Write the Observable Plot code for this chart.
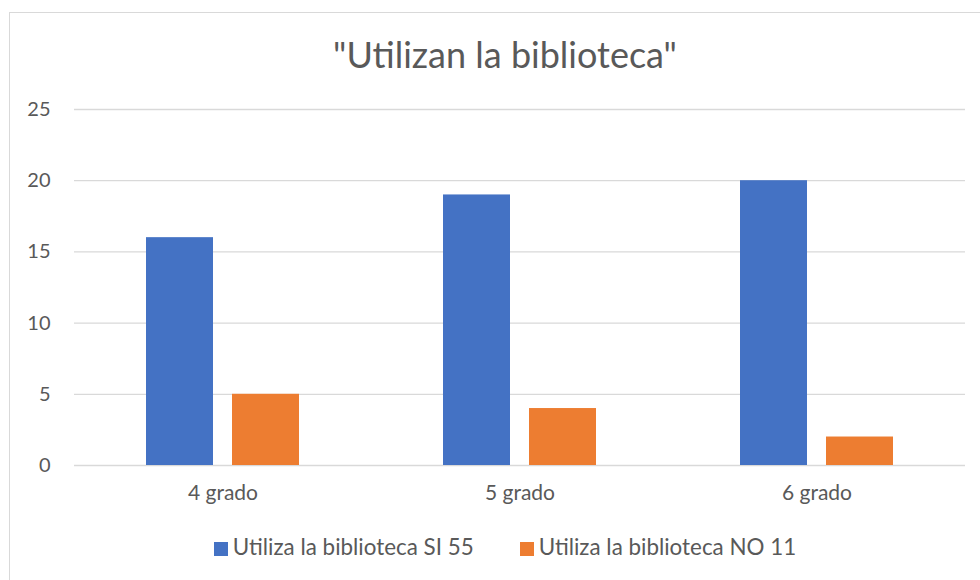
<!DOCTYPE html>
<html>
<head>
<meta charset="utf-8">
<script src="https://cdn.jsdelivr.net/npm/d3@7"></script>
<script src="https://cdn.jsdelivr.net/npm/@observablehq/plot@0.6"></script>
<style>
  html, body { margin: 0; padding: 0; background: #fff; width: 980px; height: 580px; overflow: hidden; font-family: Lato, "Open Sans", sans-serif; }
  #frame { position: absolute; left: 9px; top: 12px; width: 1000px; height: 620px; border: 1.5px solid #d9d9d9; box-sizing: border-box; }
  #title { position: absolute; left: 5px; width: 1000px; top: 30px; text-align: center; font-size: 36px; color: #595959; line-height: 48px; }
  #chart { position: absolute; left: 0; top: 0; }
  #legend { position: absolute; left: 0px; width: 1010px; top: 534px; text-align: center; font-size: 22.4px; color: #595959; line-height: 26px; white-space: nowrap; }
  .item { display: inline-block; margin: 0 23px; }
  .sw { display: inline-block; width: 14px; height: 14px; margin-right: 5px; vertical-align: -1px; }
</style>
</head>
<body>
<div id="frame"></div>
<div id="chart"></div>
<div id="title"></div>
<div id="legend"></div>
<script>
const titleText = "\"Utilizan la biblioteca\"";
const categories = ["4 grado", "5 grado", "6 grado"];
const series = ["Utiliza la biblioteca SI 55", "Utiliza la biblioteca NO 11"];
const siValues = [16, 19, 20];
const noValues = [5, 4, 2];
const yTicks = [0, 5, 10, 15, 20, 25];
const colors = ["#4472C4", "#ED7D31"];

const rows = [];
categories.forEach((c, i) => {
  rows.push({category: c, series: series[0], value: siValues[i]});
  rows.push({category: c, series: series[1], value: noValues[i]});
});

document.getElementById("title").textContent = titleText;

const plot = Plot.plot({
  width: 980,
  height: 580,
  marginLeft: 74,
  marginRight: 15,
  marginTop: 109,
  marginBottom: 115,
  style: {background: "transparent", fontFamily: "Lato, 'Open Sans', sans-serif"},
  fx: {domain: categories, padding: 0, label: null, axis: null},
  x: {domain: series, paddingInner: 0.221, paddingOuter: 0.837, axis: null},
  y: {domain: [0, 25], ticks: yTicks, label: null, axis: null},
  color: {domain: series, range: colors},
  marks: [
    Plot.ruleY(yTicks, {stroke: "#d9d9d9", strokeWidth: 1.3}),
    Plot.barY(rows, {fx: "category", x: "series", y: "value", fill: "series"}),
    Plot.axisY({ticks: yTicks, tickSize: 0, tickPadding: 24, fontSize: 20, fill: "#595959", label: null}),
    Plot.axisFx({anchor: "bottom", tickSize: 0, tickPadding: 20, fontSize: 21, fill: "#595959", label: null})
  ]
});
document.getElementById("chart").appendChild(plot);

const legend = document.getElementById("legend");
series.forEach((s, i) => {
  const item = document.createElement("span");
  item.className = "item";
  const sw = document.createElement("span");
  sw.className = "sw";
  sw.style.background = colors[i];
  item.appendChild(sw);
  item.appendChild(document.createTextNode(s));
  legend.appendChild(item);
});
</script>
</body>
</html>
